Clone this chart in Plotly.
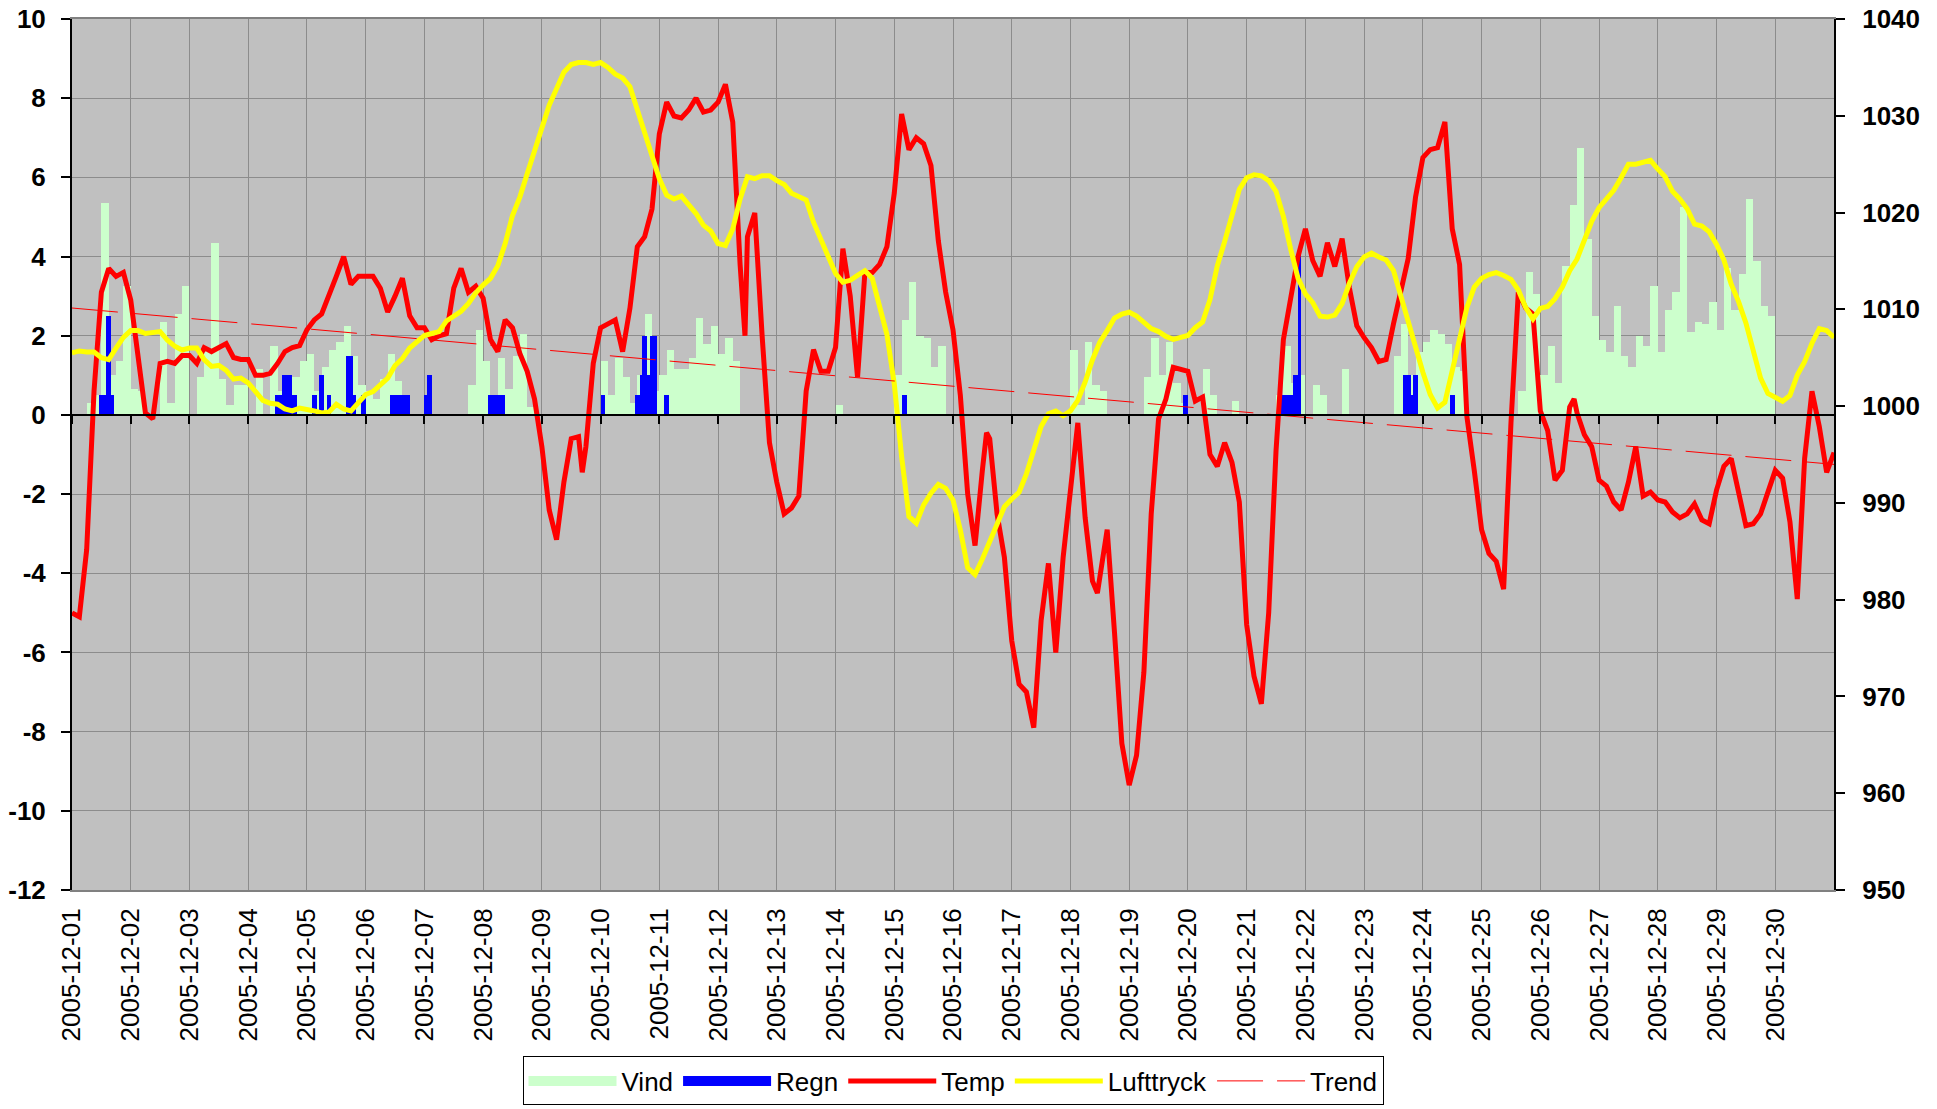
import pandas as pd
import plotly.graph_objects as go

# ---------------- data ----------------
day_labels = [f"2005-12-{d:02d}" for d in range(1, 31)]

# temperature, every 3 hours from 2005-12-01 00:00 to 2005-12-31 00:00 (241 values)
temp = [
    -5.0, -5.1, -3.4, 0.6, 3.1, 3.7, 3.5, 3.6,
    2.9, 1.5, 0.05, -0.1, 1.3, 1.35, 1.3, 1.5,
    1.5, 1.3, 1.7, 1.6, 1.7, 1.8, 1.45, 1.4,
    1.4, 1.0, 1.0, 1.05, 1.3, 1.6, 1.7, 1.75,
    2.15, 2.4, 2.55, 3.0, 3.5, 4.0, 3.3, 3.5,
    3.5, 3.5, 3.2, 2.6, 3.0, 3.45, 2.5, 2.2,
    2.2, 1.9, 2.0, 2.05, 3.2, 3.7, 3.1, 3.25,
    2.95, 1.9, 1.6, 2.4, 2.2, 1.55, 1.1, 0.4,
    -0.8, -2.4, -3.15, -1.7, -0.6, -0.55, -0.8, 1.3,
    2.2, 2.3, 2.4, 1.6, 2.7, 4.25, 4.5, 5.2,
    7.1, 7.9, 7.55, 7.5, 7.7, 8.0, 7.65, 7.7,
    7.9, 8.35, 7.4, 3.8, 4.5, 5.1, 2.0, -0.7,
    -1.7, -2.5, -2.35, -2.05, 0.6, 1.65, 1.1, 1.1,
    1.7, 4.2, 3.0, 0.95, 3.6, 3.6, 3.8, 4.25,
    5.6, 7.6, 6.7, 7.0, 6.85, 6.3, 4.4, 3.1,
    2.15, 0.5, -2.0, -3.3, -1.4, -0.6, -2.5, -3.6,
    -5.7, -6.8, -7.0, -7.9, -5.2, -3.75, -6.0, -3.6,
    -1.8, -0.2, -2.6, -4.2, -4.05, -2.9, -5.5, -8.3,
    -9.35, -8.6, -6.5, -2.5, -0.1, 0.4, 1.2, 1.15,
    1.1, 0.35, 0.45, -1.0, -1.3, -0.7, -1.2, -2.2,
    -5.3, -6.6, -7.3, -5.0, -0.9, 1.9, 2.9, 4.0,
    4.7, 3.9, 3.5, 4.35, 3.75, 4.45, 3.2, 2.25,
    1.95, 1.7, 1.35, 1.4, 2.3, 3.1, 3.95, 5.5,
    6.5, 6.7, 6.75, 7.4, 4.7, 3.8, -0.05, -1.4,
    -2.9, -3.5, -3.7, -4.4, -0.2, 3.1, 2.7, 2.55,
    0.1, -0.4, -1.65, -1.4, 0.2, 0.05, -0.5, -0.8,
    -1.65, -1.8, -2.2, -2.4, -1.7, -0.8, -2.05, -1.95,
    -2.15, -2.2, -2.45, -2.6, -2.5, -2.25, -2.65, -2.75,
    -1.9, -1.3, -1.1, -1.9, -2.8, -2.75, -2.5, -1.95,
    -1.4, -1.6, -2.7, -4.65, -1.1, 0.6, -0.3, -1.45,
    -0.95,
]
# a few extra temperature readings between the 3-hour marks (hour of month, value)
temp_extra_hours = [208.5, 275.0, 373.7, 419.0, 613.8]
temp_extra_vals = [-1.45, 2.0, -0.45, -4.5, 0.4]

# air pressure (hPa), every 3 hours (241 values)
tryck = [
    1005.5, 1005.7, 1005.6, 1005.6, 1005.0, 1004.8, 1006.0, 1007.1,
    1007.8, 1007.8, 1007.5, 1007.6, 1007.7, 1006.8, 1006.2, 1005.8,
    1006.0, 1006.0, 1004.8, 1004.1, 1004.2, 1003.7, 1002.8, 1002.9,
    1002.4, 1001.5, 1000.6, 1000.3, 1000.2, 999.7, 999.5, 999.8,
    999.7, 999.5, 999.3, 999.4, 1000.2, 999.7, 999.5, 1000.4,
    1001.2, 1001.5, 1002.2, 1002.9, 1004.2, 1004.9, 1006.0, 1006.7,
    1007.3, 1007.5, 1007.7, 1008.8, 1009.3, 1009.8, 1010.6, 1011.7,
    1012.5, 1013.2, 1014.5, 1016.8, 1019.7, 1021.6, 1024.0, 1026.5,
    1028.8, 1031.1, 1032.8, 1034.5, 1035.3, 1035.5, 1035.5, 1035.3,
    1035.5, 1035.0, 1034.3, 1033.9, 1033.0, 1030.7, 1028.2, 1026.2,
    1023.5, 1021.8, 1021.4, 1021.7, 1020.8, 1019.9, 1018.7, 1018.1,
    1016.8, 1016.6, 1018.3, 1021.4, 1023.7, 1023.5, 1023.8, 1023.8,
    1023.3, 1022.9, 1022.0, 1021.7, 1021.3, 1019.0, 1017.3, 1015.6,
    1013.7, 1012.8, 1013.0, 1013.5, 1014.0, 1013.2, 1010.3, 1007.4,
    1002.3, 994.8, 988.6, 987.9, 989.8, 991.0, 991.9, 991.5,
    990.3, 987.2, 983.3, 982.6, 984.2, 986.0, 988.1, 989.6,
    990.4, 991.1, 993.0, 995.6, 997.9, 999.2, 999.5, 999.0,
    999.5, 1000.6, 1002.5, 1004.8, 1006.6, 1007.8, 1009.1, 1009.5,
    1009.7, 1009.3, 1008.6, 1008.0, 1007.7, 1007.2, 1006.9, 1007.1,
    1007.3, 1008.1, 1008.7, 1011.0, 1014.5, 1017.0, 1019.7, 1022.4,
    1023.6, 1023.9, 1023.8, 1023.3, 1022.2, 1019.6, 1016.2, 1013.2,
    1011.6, 1010.7, 1009.3, 1009.2, 1009.4, 1010.6, 1012.7, 1014.4,
    1015.4, 1015.8, 1015.4, 1015.1, 1014.0, 1011.3, 1008.5, 1005.9,
    1003.5, 1001.2, 999.8, 1000.4, 1003.6, 1006.9, 1010.2, 1012.3,
    1013.2, 1013.6, 1013.8, 1013.5, 1013.1, 1012.0, 1010.2, 1009.0,
    1010.1, 1010.3, 1011.1, 1012.3, 1014.0, 1015.2, 1017.3, 1019.1,
    1020.5, 1021.5, 1022.3, 1023.6, 1025.0, 1025.0, 1025.2, 1025.4,
    1024.5, 1023.7, 1022.2, 1021.4, 1020.4, 1018.8, 1018.6, 1018.0,
    1016.7, 1015.1, 1012.6, 1010.8, 1008.6, 1005.6, 1002.9, 1001.3,
    1000.9, 1000.5, 1001.1, 1003.2, 1004.6, 1006.5, 1008.0, 1007.8,
    1007.1,
]

# wind, 3-hour blocks (240 values)
vind = [
    0, 0, 0.3, 0.5, 5.35, 1.0, 1.35, 3.25,
    0.65, 0.6, 0, 0, 2.35, 0.3, 2.55, 3.25,
    0, 0.95, 1.65, 4.35, 0.9, 0.25, 0.75, 0.75,
    0, 1.15, 0, 1.75, 0.6, 1.0, 0.95, 1.35,
    1.55, 0.6, 1.2, 1.65, 1.85, 2.25, 1.5, 0.75,
    0.6, 0.4, 0.9, 1.55, 0.85, 0.5, 0, 0,
    0.3, 0, 0, 0, 0, 0, 0.75, 2.15,
    1.35, 0.5, 1.45, 0.65, 1.5, 2.05, 0.2, 0,
    0, 0, 0, 0, 0, 0, 0, 0,
    1.35, 0.5, 1.45, 0.95, 0.3, 1.0, 2.55, 0.6,
    1.0, 1.65, 1.15, 1.15, 1.45, 2.45, 1.8, 2.25,
    1.55, 1.95, 1.35, 0, 0, 0, 0, 0,
    0, 0, 0, 0, 0, 0, 0, 0,
    0.25, 0, 0, 0, 0, 0, 0, 0,
    1.0, 2.4, 3.35, 2.0, 1.95, 1.2, 1.75, 0,
    0, 0, 0, 0, 0, 0, 0, 0,
    0, 0, 0, 0, 0, 0, 0, 0,
    1.65, 0.25, 1.85, 0.75, 0.6, 0, 0, 0,
    0, 0, 0.95, 1.95, 1.0, 1.85, 0.8, 0.3,
    0, 0, 1.15, 0.5, 0, 0, 0.35, 0,
    0, 0, 0, 0, 0.5, 1.75, 0.8, 1.0,
    0, 0.75, 0.5, 0, 0, 1.15, 0, 0,
    0, 0, 0, 0, 1.5, 2.3, 1.0, 1.6,
    1.85, 2.15, 2.05, 1.8, 1.2, 1.1, 0, 0,
    0, 0, 0, 0, 0, 0.6, 3.6, 3.05,
    1.0, 1.75, 0.8, 3.75, 5.3, 6.75, 4.45, 2.5,
    1.9, 1.6, 2.75, 1.5, 1.2, 2.0, 1.75, 3.25,
    1.6, 2.65, 3.1, 5.25, 2.1, 2.35, 2.3, 2.85,
    2.15, 3.7, 2.65, 3.55, 5.45, 3.9, 2.75, 2.5,
    0, 0, 0, 0, 0, 0, 0, 0,
]

# rain, hourly (hour of month, value) for hours with rain
regn_hours = [
    11, 12, 13, 14, 15, 16,
    83, 84, 85, 86, 87, 88, 89, 90, 91,
    98, 99, 101, 102, 104, 105,
    112, 113, 114, 115, 118, 119,
    130, 131, 132, 133, 134, 135, 136, 137,
    144, 145, 146,
    170, 171, 172, 173, 174, 175, 176,
    216, 217,
    230, 231, 232, 233, 234, 235, 236, 237, 238,
    242, 243,
    339, 340,
    454, 455,
    494, 495, 496, 497, 498, 499, 500, 501,
    544, 545, 546, 547, 548, 549,
    563, 564,
]
regn_vals = [
    0.5, 0.5, 0.5, 2.5, 2.5, 0.5,
    0.5, 0.5, 0.5, 1.0, 1.0, 1.0, 1.0, 0.5, 0.5,
    0.5, 0.5, 1.0, 1.0, 0.5, 0.5,
    1.5, 1.5, 1.5, 0.5, 0.5, 0.5,
    0.5, 0.5, 0.5, 0.5, 0.5, 0.5, 0.5, 0.5,
    0.5, 1.0, 1.0,
    0.5, 0.5, 0.5, 0.5, 0.5, 0.5, 0.5,
    0.5, 0.5,
    0.5, 0.5, 1.0, 2.0, 2.0, 1.0, 2.0, 2.0, 2.0,
    0.5, 0.5,
    0.5, 0.5,
    0.5, 0.5,
    0.5, 0.5, 0.5, 0.5, 0.5, 1.0, 1.0, 4.2,
    1.0, 1.0, 1.0, 0.5, 1.0, 1.0,
    0.5, 0.5,
]

# linear trend of the temperature (start / end of month)
trend_days = [0, 30]
trend_vals = [2.7, -1.25]

# ---------------- build ----------------
base = pd.Timestamp("2005-12-01")
end = pd.Timestamp("2005-12-31")
HOUR_MS = 3600 * 1000


def at_hours(hours):
    return [base + pd.Timedelta(hours=float(h)) for h in hours]


grid_hours = [3 * i for i in range(len(temp))]
temp_pts = sorted(zip(grid_hours + temp_extra_hours, temp + temp_extra_vals))
temp_x = at_hours([p[0] for p in temp_pts])
temp_y = [p[1] for p in temp_pts]

tryck_x = at_hours([3 * i for i in range(len(tryck))])
vind_x = at_hours([3 * i for i in range(len(vind))])
regn_x = at_hours(regn_hours)
trend_x = at_hours([d * 24 for d in trend_days])
tick_dates = [base + pd.Timedelta(days=i) for i in range(30)]

FONT = "Liberation Sans, Arial, sans-serif"
GRID = "#8c8c8c"
VIND_C = "#CCFFCC"
REGN_C = "#0000FF"

fig = go.Figure()
fig.add_trace(go.Bar(name="Vind", x=vind_x, y=vind, width=3 * HOUR_MS, offset=0,
                     legendgroup="vind", showlegend=False,
                     marker=dict(color=VIND_C, line=dict(width=0))))
fig.add_trace(go.Bar(name="Regn", x=regn_x, y=regn_vals, width=HOUR_MS, offset=0,
                     legendgroup="regn", showlegend=False,
                     marker=dict(color=REGN_C, line=dict(width=0))))
# legend swatches for the bar series (wide blocks, as in the original legend)
fig.add_trace(go.Scatter(name="Vind", x=[None], y=[None], mode="lines", legendgroup="vind",
                         line=dict(color=VIND_C, width=16)))
fig.add_trace(go.Scatter(name="Regn", x=[None], y=[None], mode="lines", legendgroup="regn",
                         line=dict(color=REGN_C, width=16)))
fig.add_trace(go.Scatter(name="Temp", x=temp_x, y=temp_y, mode="lines",
                         line=dict(color="#FF0000", width=5)))
fig.add_trace(go.Scatter(name="Lufttryck", x=tryck_x, y=tryck, mode="lines", yaxis="y2",
                         line=dict(color="#FFFF00", width=5)))
fig.add_trace(go.Scatter(name="Trend", x=trend_x, y=trend_vals, mode="lines", xaxis="x2",
                         line=dict(color="#FF0000", width=1, dash="46px,14px")))

yt = list(range(-12, 11, 2))
y2t = list(range(950, 1041, 10))

fig.update_layout(
    template="none",
    width=1937, height=1109,
    margin=dict(l=72, r=103, t=19, b=219, pad=0, autoexpand=False),
    paper_bgcolor="white", plot_bgcolor="#C0C0C0",
    barmode="overlay", bargap=0,
    font=dict(family=FONT, size=26, color="black"),
    showlegend=True,
    legend=dict(orientation="h", x=0.5, xanchor="center", y=-0.2474, yanchor="bottom",
                bgcolor="white", bordercolor="black", borderwidth=1,
                font=dict(family=FONT, size=26, color="black"),
                itemwidth=88, traceorder="normal", tracegroupgap=0),
    xaxis=dict(type="date", range=[base, end], tickvals=tick_dates, ticktext=day_labels,
               tickangle=-90, showgrid=True, gridcolor=GRID, gridwidth=1,
               showline=True, linecolor="#808080", linewidth=2, mirror=True,
               ticks="", ticklabelstandoff=6, zeroline=False, automargin=False,
               tickfont=dict(family=FONT, size=26, color="black")),
    xaxis2=dict(type="date", range=[base, end], overlaying="x", anchor="free",
                position=12 / 22, side="bottom", tickvals=tick_dates,
                showticklabels=False, ticks="outside", ticklen=8, tickwidth=1.5,
                tickcolor="black", showline=True, linecolor="black", linewidth=1.5,
                showgrid=False, zeroline=False, automargin=False),
    yaxis=dict(range=[-12, 10], tickvals=yt, ticktext=[str(v) for v in yt],
               showgrid=True, gridcolor=GRID, gridwidth=1, zeroline=False,
               ticks="outside", ticklen=9, tickwidth=1.5, tickcolor="black",
               showline=True, linecolor="black", linewidth=2, ticklabelstandoff=10,
               automargin=False,
               tickfont=dict(family=FONT, size=26, color="black", weight="bold")),
    yaxis2=dict(range=[950, 1040], overlaying="y", side="right", tickvals=y2t,
                ticktext=[str(v) for v in y2t], showgrid=False, zeroline=False,
                ticks="outside", ticklen=9, tickwidth=1.5, tickcolor="black",
                showline=True, linecolor="black", linewidth=2, ticklabelstandoff=12,
                automargin=False,
                tickfont=dict(family=FONT, size=26, color="black", weight="bold")),
)

# remove the browser's default page margin so the figure sits at the page origin
fig.write_html(
    "out.html",
    config={"displayModeBar": False},
    post_script="document.body.style.margin='0';document.body.style.overflow='hidden';",
)
